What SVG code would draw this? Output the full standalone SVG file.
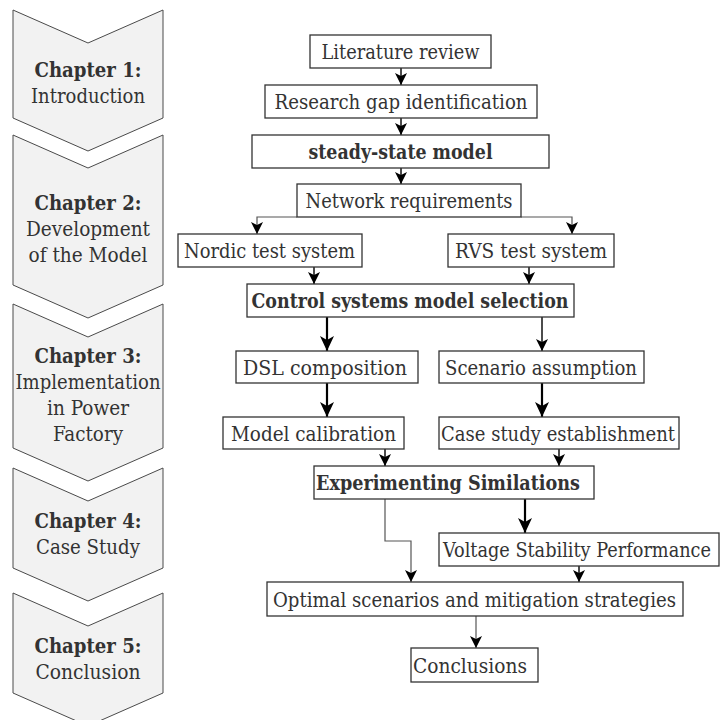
<svg xmlns="http://www.w3.org/2000/svg" width="721" height="720" viewBox="0 0 721 720">
  <style>
    .chev { fill: #f2f2f2; stroke: #4a4a4a; stroke-width: 1; }
    text { font-family: "DejaVu Serif", serif; font-stretch: condensed; font-size: 21px; fill: #333; }
    .mc { text-anchor: middle; }
    .ls { text-anchor: start; }
    .b { font-weight: bold; }
    .box { fill: #fff; stroke: #333; stroke-width: 1.3; }
    .thin { fill: none; stroke: #555; stroke-width: 1.2; marker-end: url(#ah); }
    .mid { fill: none; stroke: #111; stroke-width: 1.5; marker-end: url(#ah); }
    .thick { fill: none; stroke: #000; stroke-width: 2.2; marker-end: url(#ahL); }
  </style>
  <defs>
    <marker id="ah" markerUnits="userSpaceOnUse" markerWidth="12" markerHeight="12" viewBox="0 0 12 12" refX="12" refY="6" orient="auto">
      <path d="M0,0 L12,6 L0,12 L3,6 Z" fill="#000"/>
    </marker>
    <marker id="ahL" markerUnits="userSpaceOnUse" markerWidth="15" markerHeight="14" viewBox="0 0 15 14" refX="15" refY="7" orient="auto">
      <path d="M0,0 L15,7 L0,14 L4,7 Z" fill="#000"/>
    </marker>
  </defs>

  <rect width="721" height="720" fill="#fff"/>

  <!-- chapter chevrons -->
  <g id="chapter1">
    <polygon class="chev" points="13,10 88,43 163,10 163,118 88,151 13,118"/>
    <text class="mc b" x="88" y="77" textLength="107" lengthAdjust="spacingAndGlyphs">Chapter 1:</text>
    <text class="mc" x="88" y="103" textLength="114" lengthAdjust="spacingAndGlyphs">Introduction</text>
  </g>
  <g id="chapter2">
    <polygon class="chev" points="13,135 88,168 163,135 163,285 88,318 13,285"/>
    <text class="mc b" x="88" y="210" textLength="107" lengthAdjust="spacingAndGlyphs">Chapter 2:</text>
    <text class="mc" x="88" y="236" textLength="124" lengthAdjust="spacingAndGlyphs">Development</text>
    <text class="mc" x="88" y="262" textLength="119" lengthAdjust="spacingAndGlyphs">of the Model</text>
  </g>
  <g id="chapter3">
    <polygon class="chev" points="13,304 88,337 163,304 163,448 88,481 13,448"/>
    <text class="mc b" x="88" y="363" textLength="107" lengthAdjust="spacingAndGlyphs">Chapter 3:</text>
    <text class="mc" x="88" y="389" textLength="145" lengthAdjust="spacingAndGlyphs">Implementation</text>
    <text class="mc" x="88" y="415" textLength="82" lengthAdjust="spacingAndGlyphs">in Power</text>
    <text class="mc" x="88" y="441" textLength="70" lengthAdjust="spacingAndGlyphs">Factory</text>
  </g>
  <g id="chapter4">
    <polygon class="chev" points="13,468 88,501 163,468 163,568 88,601 13,568"/>
    <text class="mc b" x="88" y="528" textLength="107" lengthAdjust="spacingAndGlyphs">Chapter 4:</text>
    <text class="mc" x="88" y="554" textLength="104" lengthAdjust="spacingAndGlyphs">Case Study</text>
  </g>
  <g id="chapter5">
    <polygon class="chev" points="13,593 88,626 163,593 163,693 88,726 13,693"/>
    <text class="mc b" x="88" y="653" textLength="107" lengthAdjust="spacingAndGlyphs">Chapter 5:</text>
    <text class="mc" x="88" y="679" textLength="105" lengthAdjust="spacingAndGlyphs">Conclusion</text>
  </g>

  <!-- connectors -->
  <g id="connectors">
    <path class="mid" d="M401,68 V85"/>
    <path class="mid" d="M401,118 V135"/>
    <path class="mid" d="M401,168 V184"/>
    <path class="thin" d="M297,217 H257 V234"/>
    <path class="thin" d="M521,217 H572 V234"/>
    <path class="mid" d="M314,267 V284"/>
    <path class="mid" d="M529,267 V284"/>
    <path class="thick" d="M327,317 V351"/>
    <path class="mid" d="M542,317 V351"/>
    <path class="thick" d="M327,383 V417"/>
    <path class="thick" d="M542,383 V417"/>
    <path class="mid" d="M385,449 V466"/>
    <path class="mid" d="M559,449 V466"/>
    <path class="thin" d="M385,499 V541 H411 V582"/>
    <path class="thick" d="M525,499 V533"/>
    <path class="mid" d="M579,566 V582"/>
    <path class="thin" d="M476,616 V648"/>
  </g>

  <!-- process steps -->
  <g id="literature-review">
    <rect class="box" x="310" y="35" width="181" height="33"/>
    <text class="mc" x="400.5" y="59" textLength="158" lengthAdjust="spacingAndGlyphs">Literature review</text>
  </g>
  <g id="research-gap">
    <rect class="box" x="265" y="85" width="272" height="33"/>
    <text class="mc" x="401" y="109" textLength="253" lengthAdjust="spacingAndGlyphs">Research gap identification</text>
  </g>
  <g id="steady-state">
    <rect class="box" x="252" y="135" width="297" height="33"/>
    <text class="mc b" x="400.5" y="159" textLength="184" lengthAdjust="spacingAndGlyphs">steady-state model</text>
  </g>
  <g id="network-req">
    <rect class="box" x="297" y="184" width="224" height="33"/>
    <text class="mc" x="409" y="208" textLength="207" lengthAdjust="spacingAndGlyphs">Network requirements</text>
  </g>
  <g id="nordic">
    <rect class="box" x="178" y="234" width="184" height="33"/>
    <text class="mc" x="269.5" y="258" textLength="171" lengthAdjust="spacingAndGlyphs">Nordic test system</text>
  </g>
  <g id="rvs">
    <rect class="box" x="448" y="234" width="166" height="33"/>
    <text class="mc" x="531" y="258" textLength="152" lengthAdjust="spacingAndGlyphs">RVS test system</text>
  </g>
  <g id="control-selection">
    <rect class="box" x="247" y="284" width="327" height="33"/>
    <text class="mc b" x="410" y="308" textLength="317" lengthAdjust="spacingAndGlyphs">Control systems model selection</text>
  </g>
  <g id="dsl">
    <rect class="box" x="236" y="351" width="182" height="32"/>
    <text class="mc" x="325" y="375" textLength="164" lengthAdjust="spacingAndGlyphs">DSL composition</text>
  </g>
  <g id="scenario">
    <rect class="box" x="439" y="351" width="205" height="32"/>
    <text class="mc" x="541" y="375" textLength="192" lengthAdjust="spacingAndGlyphs">Scenario assumption</text>
  </g>
  <g id="calibration">
    <rect class="box" x="223" y="417" width="181" height="32"/>
    <text class="mc" x="313.5" y="441" textLength="165" lengthAdjust="spacingAndGlyphs">Model calibration</text>
  </g>
  <g id="case-study">
    <rect class="box" x="439" y="417" width="240" height="32"/>
    <text class="mc" x="558" y="441" textLength="234" lengthAdjust="spacingAndGlyphs">Case study establishment</text>
  </g>
  <g id="experimenting">
    <rect class="box" x="314" y="466" width="280" height="33"/>
    <text class="ls b" x="316" y="490" textLength="264" lengthAdjust="spacingAndGlyphs">Experimenting Similations</text>
  </g>
  <g id="voltage">
    <rect class="box" x="439" y="533" width="280" height="33"/>
    <text class="ls" x="443" y="557" textLength="268" lengthAdjust="spacingAndGlyphs">Voltage Stability Performance</text>
  </g>
  <g id="optimal">
    <rect class="box" x="267" y="582" width="416" height="34"/>
    <text class="mc" x="474.5" y="607" textLength="403" lengthAdjust="spacingAndGlyphs">Optimal scenarios and mitigation strategies</text>
  </g>
  <g id="conclusions">
    <rect class="box" x="411" y="648" width="127" height="34"/>
    <text class="mc" x="470" y="673" textLength="114" lengthAdjust="spacingAndGlyphs">Conclusions</text>
  </g>
</svg>
